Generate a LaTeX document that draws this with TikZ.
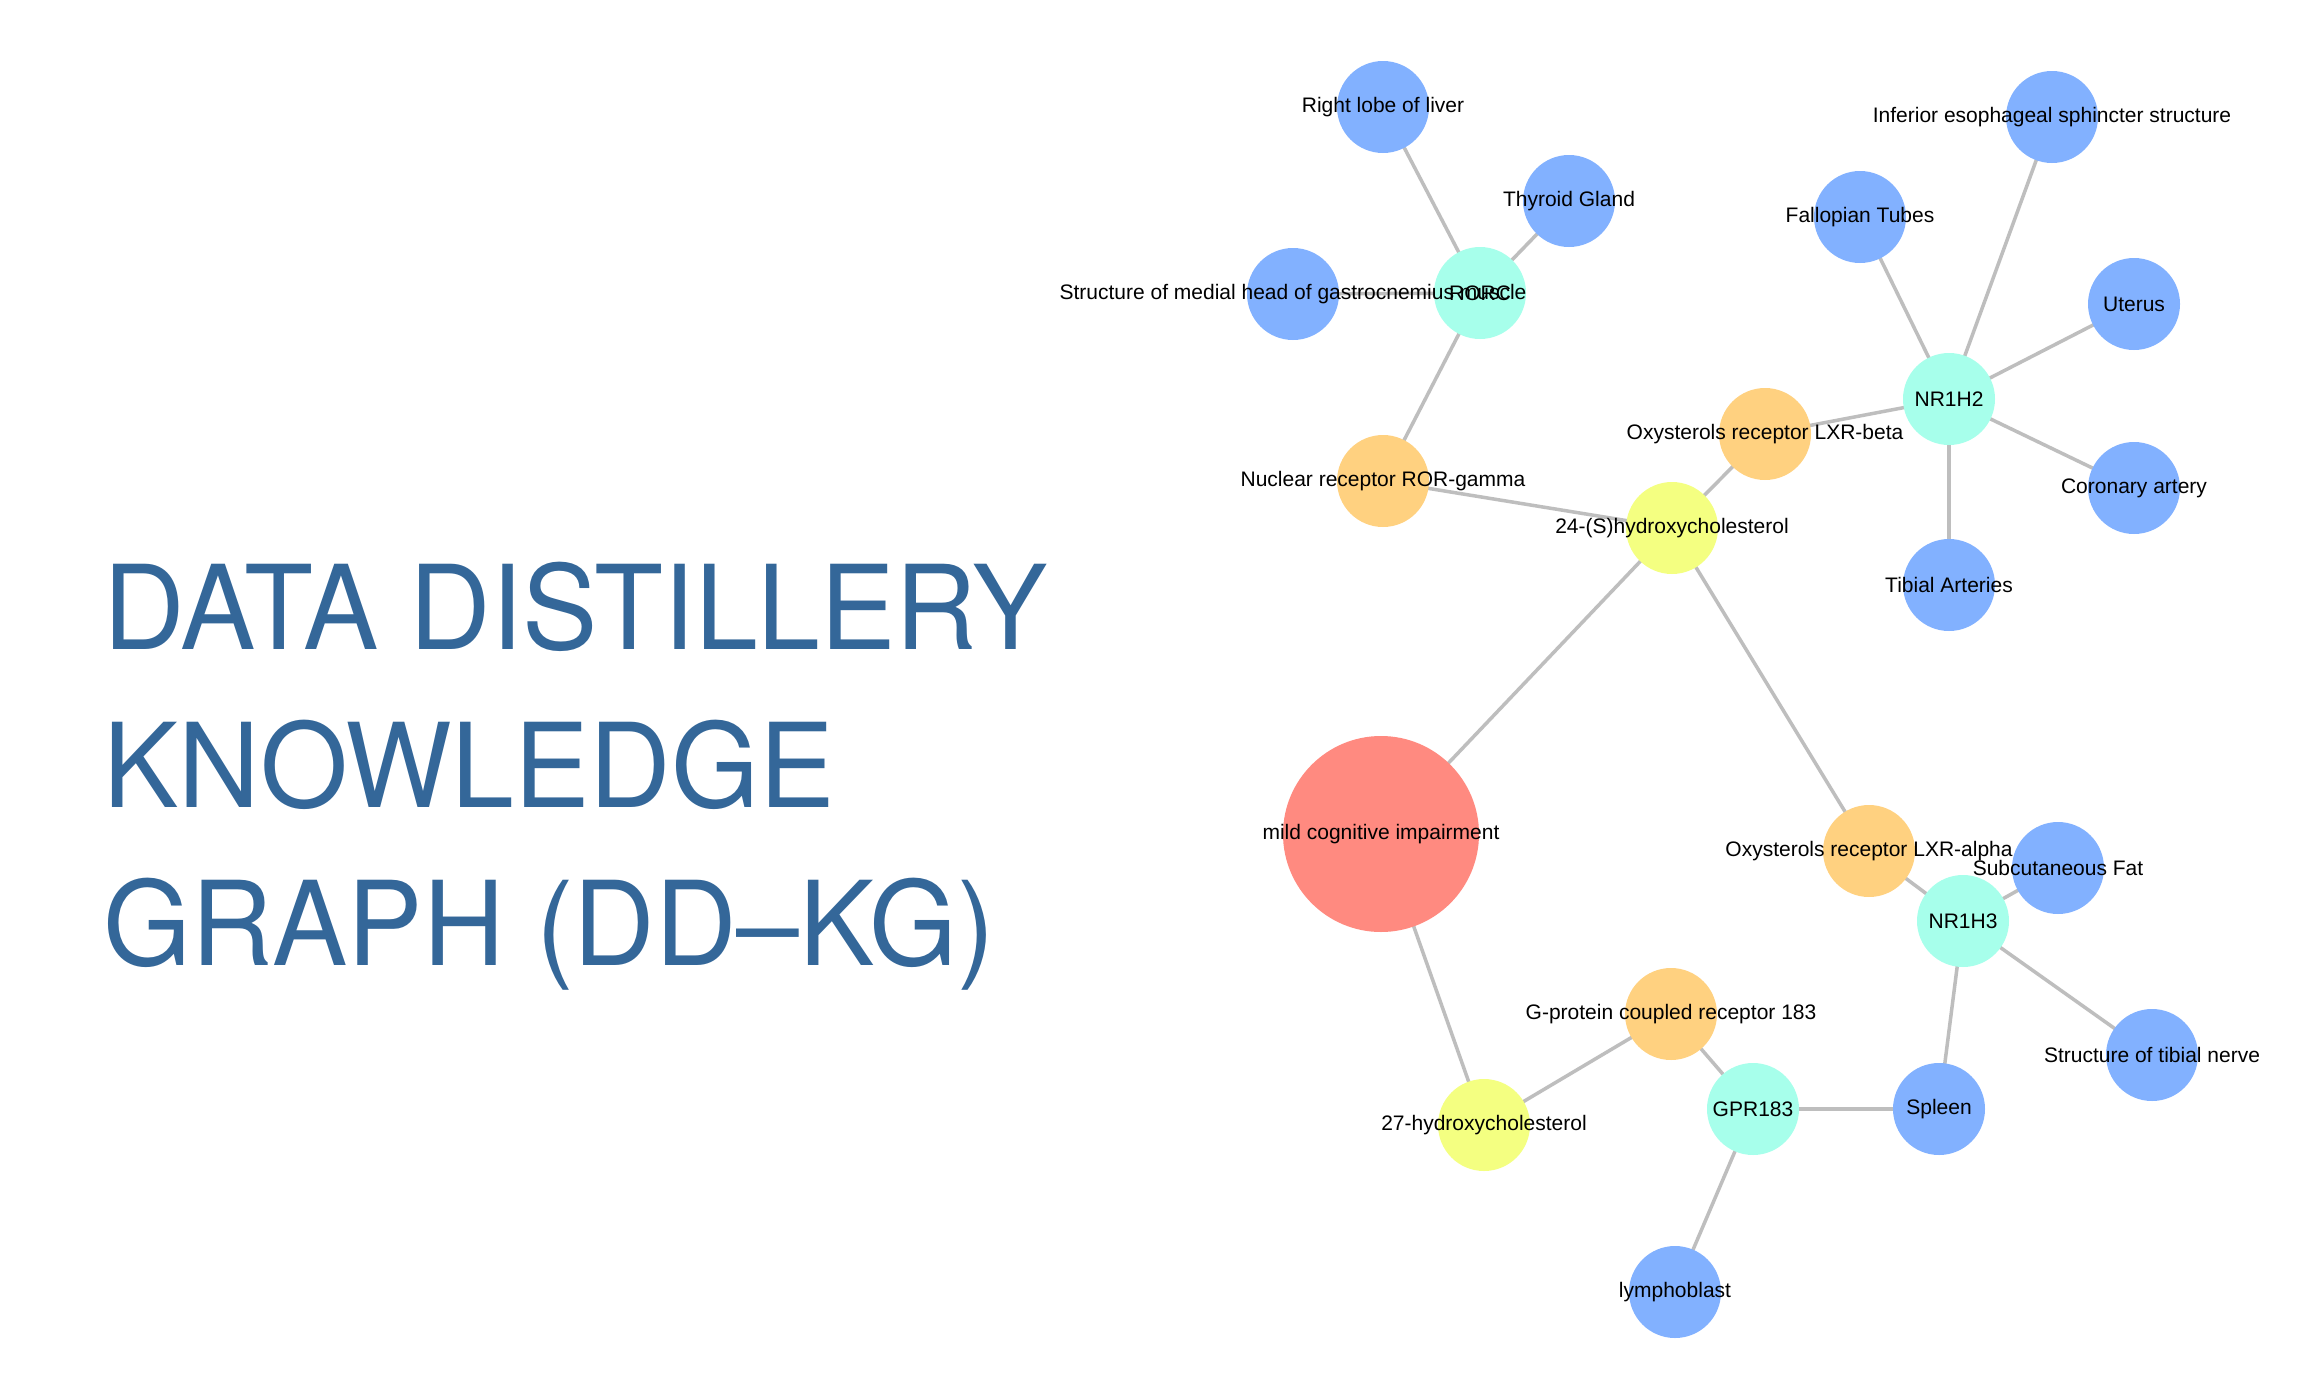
\documentclass[tikz,border=0pt]{standalone}
\usepackage{fontspec}
\setmainfont{Liberation Sans}
\newfontfamily\titlefont[FakeStretch=0.965]{TeX Gyre Heros}
\usetikzlibrary{backgrounds}
\definecolor{nblue}{RGB}{130,177,255}
\definecolor{nteal}{RGB}{167,255,235}
\definecolor{norange}{RGB}{255,209,128}
\definecolor{nyellow}{RGB}{244,255,129}
\definecolor{nred}{RGB}{255,138,128}
\definecolor{egray}{RGB}{190,190,190}
\definecolor{titleblue}{RGB}{52,103,153}
\tikzset{
  ent/.style={circle, fill=#1, minimum size=92pt, inner sep=0pt},
  bigent/.style={circle, fill=nred, minimum size=196pt, inner sep=0pt},
  lbl/.style={font=\fontsize{21}{25}\selectfont, inner sep=0pt, text=black},
  link/.style={draw=egray, line width=3.5pt},
  ttl/.style={font=\titlefont\fontsize{117}{140}\selectfont, text=titleblue, anchor=base west, inner sep=0pt}
}
\begin{document}
\begin{tikzpicture}[x=1pt,y=-1pt]
\useasboundingbox (0,0) rectangle (2300,1400);
% title
\node[ttl] (title1) at (103,649) {DATA DISTILLERY};
\node[ttl] (title2) at (103,807) {KNOWLEDGE};
\node[ttl] (title3) at (103,965) {GRAPH (DD–KG)};
% circles
\node[ent=nblue] (liver) at (1383,107) {};
\node[ent=nblue] (thyroid) at (1569,201) {};
\node[ent=nblue] (gastro) at (1293,294) {};
\node[ent=nteal] (rorc) at (1480,293) {};
\node[ent=norange] (rorg) at (1383,481) {};
\node[ent=nyellow] (h24) at (1672,528) {};
\node[ent=norange] (lxrb) at (1765,434) {};
\node[ent=nteal] (nr1h2) at (1949,399) {};
\node[ent=nblue] (fallop) at (1860,217) {};
\node[ent=nblue] (esoph) at (2052,117) {};
\node[ent=nblue] (uterus) at (2134,304) {};
\node[ent=nblue] (coron) at (2134,488) {};
\node[ent=nblue] (tibart) at (1949,585) {};
\node[bigent] (mci) at (1381,834) {};
\node[ent=norange] (lxra) at (1869,851) {};
\node[ent=nteal] (nr1h3) at (1963,921) {};
\node[ent=nblue] (subfat) at (2058,868) {};
\node[ent=nblue] (tibnerve) at (2152,1055) {};
\node[ent=nblue] (spleen) at (1939,1109) {};
\node[ent=nteal] (gpr) at (1753,1109) {};
\node[ent=norange] (gpcr) at (1671,1014) {};
\node[ent=nyellow] (h27) at (1484,1125) {};
\node[ent=nblue] (lympho) at (1675,1292) {};
% connectors
\begin{scope}[on background layer]
\fill[white] (0,0) rectangle (2300,1400);
\draw[link] (rorc.center) -- (liver.center);
\draw[link] (rorc.center) -- (thyroid.center);
\draw[link] (rorc.center) -- (gastro.center);
\draw[link] (rorc.center) -- (rorg.center);
\draw[link] (rorg.center) -- (h24.center);
\draw[link] (h24.center) -- (lxrb.center);
\draw[link] (lxrb.center) -- (nr1h2.center);
\draw[link] (nr1h2.center) -- (fallop.center);
\draw[link] (nr1h2.center) -- (esoph.center);
\draw[link] (nr1h2.center) -- (uterus.center);
\draw[link] (nr1h2.center) -- (coron.center);
\draw[link] (nr1h2.center) -- (tibart.center);
\draw[link] (h24.center) -- (mci.center);
\draw[link] (h24.center) -- (lxra.center);
\draw[link] (lxra.center) -- (nr1h3.center);
\draw[link] (nr1h3.center) -- (subfat.center);
\draw[link] (nr1h3.center) -- (tibnerve.center);
\draw[link] (nr1h3.center) -- (spleen.center);
\draw[link] (mci.center) -- (h27.center);
\draw[link] (h27.center) -- (gpcr.center);
\draw[link] (gpcr.center) -- (gpr.center);
\draw[link] (gpr.center) -- (spleen.center);
\draw[link] (gpr.center) -- (lympho.center);
\end{scope}
% labels
\node[lbl] (tliver) at (liver) {Right lobe of liver};
\node[lbl] (tthyroid) at (thyroid) {Thyroid Gland};
\node[lbl] (tgastro) at (gastro) {Structure of medial head of gastrocnemius muscle};
\node[lbl] (trorc) at (rorc) {RORC};
\node[lbl] (trorg) at (rorg) {Nuclear receptor ROR-gamma};
\node[lbl] (th24) at (h24) {24-(S)hydroxycholesterol};
\node[lbl] (tlxrb) at (lxrb) {Oxysterols receptor LXR-beta};
\node[lbl] (tnr1h2) at (nr1h2) {NR1H2};
\node[lbl] (tfallop) at (fallop) {Fallopian Tubes};
\node[lbl] (tesoph) at (esoph) {Inferior esophageal sphincter structure};
\node[lbl] (tuterus) at (uterus) {Uterus};
\node[lbl] (tcoron) at (coron) {Coronary artery};
\node[lbl] (ttibart) at (tibart) {Tibial Arteries};
\node[lbl] (tmci) at (mci) {mild cognitive impairment};
\node[lbl] (tlxra) at (lxra) {Oxysterols receptor LXR-alpha};
\node[lbl] (tnr1h3) at (nr1h3) {NR1H3};
\node[lbl] (tsubfat) at (subfat) {Subcutaneous Fat};
\node[lbl] (ttibnerve) at (tibnerve) {Structure of tibial nerve};
\node[lbl] (tspleen) at (spleen) {Spleen};
\node[lbl] (tgpr) at (gpr) {GPR183};
\node[lbl] (tgpcr) at (gpcr) {G-protein coupled receptor 183};
\node[lbl] (th27) at (h27) {27-hydroxycholesterol};
\node[lbl] (tlympho) at (lympho) {lymphoblast};
\end{tikzpicture}
\end{document}
